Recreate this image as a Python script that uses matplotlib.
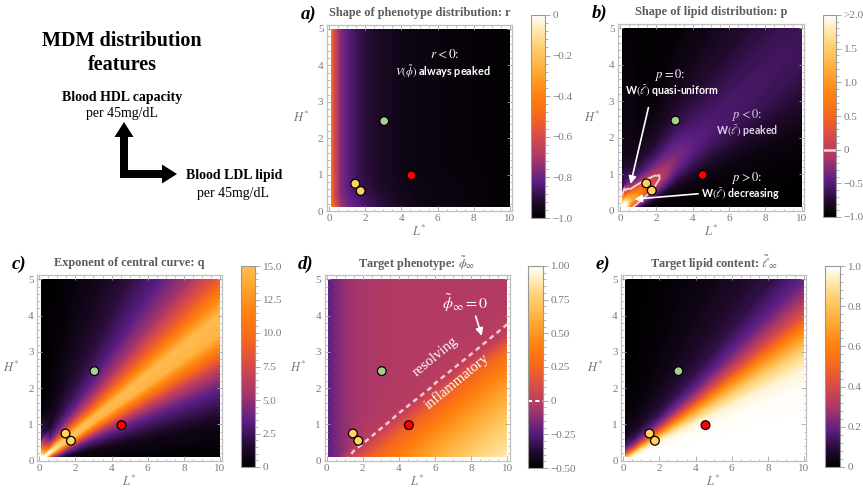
import numpy as np
import matplotlib.pyplot as plt
from matplotlib.colors import LinearSegmentedColormap, Normalize
from matplotlib.cm import ScalarMappable
from matplotlib.patches import Rectangle, FancyArrow
from matplotlib.ticker import MultipleLocator, AutoMinorLocator

plt.rcParams['font.family'] = ['Liberation Serif', 'DejaVu Serif']
plt.rcParams['mathtext.fontset'] = 'stix'

FIG_W, FIG_H = 863, 495

# fields are sampled along rays H* = ratio * L* (rows = ratio, columns = L*)
L_nodes = [0.1, 0.3, 0.6, 1, 1.5, 2, 3, 4, 5, 6, 8, 10]
ratio_nodes = [0, 0.1, 0.2, 0.25, 0.3, 0.35, 0.4, 0.45, 0.5, 0.6, 0.75, 1.0, 1.5, 2.5, 5, 12, 50]

# a) shape of phenotype distribution r
r_shape = [
    [-0.30, -0.45, -0.66, -0.76, -0.80, -0.84, -0.90, -0.94, -0.96, -0.97, -0.98, -0.99],
    [-0.32, -0.47, -0.68, -0.78, -0.82, -0.86, -0.915, -0.95, -0.965, -0.97, -0.98, -0.99],
    [-0.33, -0.48, -0.70, -0.79, -0.835, -0.88, -0.93, -0.955, -0.97, -0.975, -0.985, -0.99],
    [-0.33, -0.49, -0.71, -0.795, -0.84, -0.885, -0.935, -0.96, -0.97, -0.975, -0.985, -0.99],
    [-0.34, -0.50, -0.72, -0.80, -0.85, -0.89, -0.94, -0.96, -0.97, -0.975, -0.985, -0.99],
    [-0.34, -0.52, -0.725, -0.80, -0.855, -0.893, -0.94, -0.96, -0.97, -0.975, -0.985, -0.99],
    [-0.35, -0.53, -0.73, -0.805, -0.86, -0.895, -0.94, -0.96, -0.97, -0.975, -0.985, -0.99],
    [-0.35, -0.54, -0.735, -0.805, -0.86, -0.898, -0.94, -0.96, -0.97, -0.975, -0.985, -0.99],
    [-0.35, -0.55, -0.74, -0.81, -0.865, -0.90, -0.94, -0.96, -0.97, -0.975, -0.985, -0.99],
    [-0.36, -0.57, -0.745, -0.815, -0.87, -0.905, -0.94, -0.96, -0.97, -0.975, -0.985, -0.99],
    [-0.37, -0.59, -0.75, -0.82, -0.87, -0.905, -0.94, -0.96, -0.97, -0.975, -0.985, -0.99],
    [-0.38, -0.60, -0.76, -0.82, -0.87, -0.905, -0.94, -0.96, -0.97, -0.975, -0.985, -0.99],
    [-0.41, -0.62, -0.76, -0.82, -0.87, -0.905, -0.94, -0.96, -0.97, -0.975, -0.985, -0.99],
    [-0.44, -0.62, -0.76, -0.82, -0.87, -0.905, -0.94, -0.96, -0.97, -0.975, -0.985, -0.99],
    [-0.47, -0.62, -0.76, -0.82, -0.87, -0.905, -0.94, -0.96, -0.97, -0.975, -0.985, -0.99],
    [-0.47, -0.62, -0.76, -0.82, -0.87, -0.905, -0.94, -0.96, -0.97, -0.975, -0.985, -0.99],
    [-0.47, -0.62, -0.76, -0.82, -0.87, -0.905, -0.94, -0.96, -0.97, -0.975, -0.985, -0.99],
]

# b) shape of lipid distribution p
p_shape = [
    [2.6, 1.8, -0.4, -0.9, -0.97, -0.99, -1, -1, -1, -1, -1, -1],
    [2.6, 2.0, 0.0, -0.6, -0.85, -0.93, -0.97, -0.98, -0.98, -0.98, -0.98, -0.98],
    [2.6, 2.1, 0.45, -0.1, -0.5, -0.68, -0.86, -0.89, -0.90, -0.91, -0.92, -0.92],
    [2.6, 2.2, 0.65, 0.15, -0.2, -0.45, -0.73, -0.79, -0.82, -0.83, -0.84, -0.85],
    [2.6, 2.2, 0.85, 0.45, 0.05, -0.22, -0.58, -0.67, -0.71, -0.73, -0.75, -0.76],
    [2.6, 2.2, 1.0, 0.7, 0.25, -0.04, -0.44, -0.56, -0.62, -0.64, -0.66, -0.68],
    [2.6, 2.2, 1.15, 0.85, 0.38, 0.07, -0.335, -0.48, -0.54, -0.57, -0.60, -0.62],
    [2.6, 2.2, 1.25, 0.9, 0.42, 0.06, -0.30, -0.45, -0.52, -0.55, -0.58, -0.60],
    [2.6, 2.2, 1.25, 0.85, 0.3, -0.05, -0.32, -0.47, -0.53, -0.56, -0.59, -0.61],
    [2.6, 2.1, 1.15, 0.5, -0.08, -0.3, -0.44, -0.56, -0.62, -0.64, -0.66, -0.68],
    [2.6, 1.9, 0.8, -0.1, -0.45, -0.58, -0.64, -0.71, -0.75, -0.77, -0.78, -0.79],
    [2.6, 1.5, 0.0, -0.55, -0.72, -0.8, -0.825, -0.86, -0.88, -0.89, -0.90, -0.90],
    [2.3, 0.3, -0.6, -0.85, -0.9, -0.94, -0.95, -0.96, -0.97, -0.97, -0.97, -0.97],
    [1.4, -0.55, -0.85, -0.95, -0.97, -0.98, -0.99, -0.99, -0.99, -0.99, -0.99, -0.99],
    [-0.66, -0.85, -0.93, -0.98, -0.99, -1, -1, -1, -1, -1, -1, -1],
    [-0.85, -0.95, -0.97, -1, -1, -1, -1, -1, -1, -1, -1, -1],
    [-0.98, -0.98, -0.99, -1, -1, -1, -1, -1, -1, -1, -1, -1],
]

# c) exponent of central curve q
q_exponent = [
    [20, 4, 1, 0.3, 0.1, 0, 0, 0, 0, 0, 0, 0],
    [20, 8, 4, 2.5, 1.5, 1, 0.8, 0.8, 0.8, 0.8, 0.8, 0.8],
    [20, 14, 9, 7, 5, 4.2, 3.6, 3.6, 3.6, 3.6, 3.6, 3.6],
    [20, 16, 12, 10, 8, 7, 6.2, 6.2, 6.2, 6.2, 6.2, 6.2],
    [20, 18, 15, 13.5, 12, 11.2, 10.4, 10.4, 10.4, 10.4, 10.4, 10.4],
    [20, 19, 17.5, 16, 15.3, 15, 14.4, 14.4, 14.4, 14.4, 14.4, 14.4],
    [20, 19, 18, 16.5, 15.5, 15.2, 14.7, 14.7, 14.7, 14.7, 14.7, 14.7],
    [20, 18.5, 17, 15, 13.5, 12.5, 11.6, 11.6, 11.6, 11.6, 11.6, 11.6],
    [20, 17, 14.5, 12.5, 10.8, 9.7, 8.8, 8.8, 8.8, 8.8, 8.8, 8.8],
    [20, 15, 10, 8, 6.7, 6, 5.4, 5.4, 5.4, 5.4, 5.4, 5.4],
    [20, 13, 6, 4.5, 3.9, 3.5, 3.3, 3.3, 3.3, 3.3, 3.3, 3.3],
    [19, 11, 3.2, 2.5, 2.2, 2, 1.9, 1.9, 1.9, 1.9, 1.9, 1.9],
    [17, 6, 1.3, 1, 1, 1, 0.9, 0.9, 0.9, 0.9, 0.9, 0.9],
    [12, 2, 0.5, 0.4, 0.4, 0.4, 0.4, 0.4, 0.4, 0.4, 0.4, 0.4],
    [3, 0.3, 0.1, 0.1, 0.1, 0.1, 0.15, 0.15, 0.15, 0.15, 0.15, 0.15],
    [0.3, 0, 0, 0, 0, 0, 0, 0, 0, 0, 0, 0],
    [0, 0, 0, 0, 0, 0, 0, 0, 0, 0, 0, 0],
]

# d) target phenotype
phi_target = [
    [-0.23, -0.2, -0.16, -0.02, 0.1, 0.185, 0.31, 0.42, 0.525, 0.62, 0.785, 0.9],
    [-0.23, -0.2, -0.16, -0.05, 0.043, 0.105, 0.22, 0.315, 0.40, 0.48, 0.625, 0.75],
    [-0.23, -0.2, -0.16, -0.09, -0.01, 0.025, 0.11, 0.195, 0.258, 0.32, 0.435, 0.54],
    [-0.23, -0.2, -0.16, -0.11, -0.02, -0.012, 0.05, 0.113, 0.177, 0.23, 0.33, 0.41],
    [-0.23, -0.2, -0.16, -0.11, -0.035, -0.02, -0.005, 0.025, 0.077, 0.12, 0.21, 0.27],
    [-0.23, -0.2, -0.16, -0.11, -0.045, -0.03, -0.018, -0.02, -0.015, 0.002, 0.008, 0.017],
    [-0.23, -0.2, -0.16, -0.11, -0.05, -0.04, -0.025, -0.025, -0.02, -0.016, -0.015, -0.015],
    [-0.23, -0.2, -0.16, -0.11, -0.058, -0.045, -0.032, -0.03, -0.027, -0.027, -0.028, -0.03],
    [-0.23, -0.2, -0.16, -0.11, -0.064, -0.05, -0.035, -0.033, -0.03, -0.03, -0.03, -0.03],
    [-0.23, -0.2, -0.16, -0.11, -0.07, -0.055, -0.04, -0.035, -0.03, -0.03, -0.03, -0.03],
    [-0.23, -0.2, -0.16, -0.11, -0.078, -0.06, -0.042, -0.035, -0.03, -0.03, -0.03, -0.03],
    [-0.23, -0.2, -0.16, -0.11, -0.08, -0.062, -0.042, -0.035, -0.03, -0.03, -0.03, -0.03],
    [-0.23, -0.2, -0.16, -0.11, -0.08, -0.062, -0.042, -0.035, -0.03, -0.03, -0.03, -0.03],
    [-0.23, -0.2, -0.16, -0.11, -0.08, -0.062, -0.042, -0.035, -0.03, -0.03, -0.03, -0.03],
    [-0.23, -0.2, -0.16, -0.11, -0.08, -0.062, -0.042, -0.035, -0.03, -0.03, -0.03, -0.03],
    [-0.23, -0.2, -0.16, -0.11, -0.08, -0.062, -0.042, -0.035, -0.03, -0.03, -0.03, -0.03],
    [-0.23, -0.2, -0.16, -0.11, -0.08, -0.062, -0.042, -0.035, -0.03, -0.03, -0.03, -0.03],
]

# e) target lipid content
ell_target = [
    [1, 1, 1, 1, 1, 1, 1, 1, 1, 1, 1, 1],
    [1, 0.98, 0.99, 1, 1, 1, 1, 1, 1, 1, 1, 1],
    [1, 0.93, 0.95, 0.97, 0.99, 0.99, 0.99, 0.99, 0.99, 0.99, 0.99, 0.99],
    [1, 0.9, 0.92, 0.94, 0.97, 0.97, 0.96, 0.96, 0.96, 0.96, 0.96, 0.96],
    [1, 0.85, 0.88, 0.9, 0.88, 0.87, 0.86, 0.85, 0.85, 0.85, 0.85, 0.85],
    [1, 0.82, 0.8, 0.8, 0.74, 0.7, 0.67, 0.65, 0.65, 0.65, 0.65, 0.65],
    [0.98, 0.78, 0.72, 0.66, 0.55, 0.5, 0.45, 0.42, 0.42, 0.42, 0.42, 0.42],
    [0.95, 0.74, 0.62, 0.52, 0.4, 0.35, 0.3, 0.28, 0.28, 0.28, 0.28, 0.28],
    [0.9, 0.7, 0.52, 0.4, 0.3, 0.25, 0.21, 0.19, 0.19, 0.19, 0.19, 0.19],
    [0.85, 0.6, 0.38, 0.25, 0.17, 0.14, 0.12, 0.11, 0.11, 0.11, 0.11, 0.11],
    [0.75, 0.45, 0.24, 0.14, 0.1, 0.08, 0.075, 0.07, 0.07, 0.07, 0.07, 0.07],
    [0.6, 0.3, 0.12, 0.07, 0.05, 0.045, 0.04, 0.04, 0.04, 0.04, 0.04, 0.04],
    [0.4, 0.15, 0.05, 0.03, 0.02, 0.02, 0.02, 0.02, 0.02, 0.02, 0.02, 0.02],
    [0.2, 0.05, 0.02, 0.01, 0.01, 0.01, 0.01, 0.01, 0.01, 0.01, 0.01, 0.01],
    [0.05, 0.01, 0, 0, 0, 0, 0, 0, 0, 0, 0, 0],
    [0.01, 0, 0, 0, 0, 0, 0, 0, 0, 0, 0, 0],
    [0, 0, 0, 0, 0, 0, 0, 0, 0, 0, 0, 0],
]

# patient markers (L*, H*)
pt_L = [3.05, 4.55, 1.45, 1.75]
pt_H = [2.47, 0.98, 0.75, 0.55]
pt_colors = ['#a3d08a', '#ff0000', '#ffd35e', '#ffd35e']

sunset = LinearSegmentedColormap.from_list('sunset', [
    (0.0, (0, 0, 0)),
    (0.08, (0.13, 0.04, 0.18)),
    (0.18, (0.36, 0.12, 0.52)),
    (0.3, (0.68, 0.22, 0.4)),
    (0.4, (0.84, 0.29, 0.29)),
    (0.5, (0.96, 0.4, 0.12)),
    (0.6, (1.0, 0.5, 0.05)),
    (0.72, (1.0, 0.66, 0.2)),
    (0.85, (1.0, 0.82, 0.45)),
    (0.93, (1.0, 0.92, 0.7)),
    (1.0, (1, 1, 1)),
])

GREY_TXT = '#7a7a7a'


def px_rect(l, t, r, b):
    return [l / FIG_W, 1 - b / FIG_H, (r - l) / FIG_W, (b - t) / FIG_H]


def heat_panel(fig, box, cbox, field, vmin, vmax, letter, title, ticks, labels, bar_top=None):
    ax = fig.add_axes(px_rect(*box))
    norm = Normalize(vmin, vmax)
    X = np.tile(L_nodes, (len(ratio_nodes), 1))
    Y = np.outer(ratio_nodes, L_nodes)
    Z = np.clip(np.array(field, dtype=float), vmin, vmax)
    cs = ax.contourf(X, Y, Z, levels=np.linspace(vmin, vmax, 300), cmap=sunset, norm=norm,
                     antialiased=False)
    cs.set_clip_path(Rectangle((0.1, 0.1), 9.9, 4.9, transform=ax.transData))
    ax.scatter(pt_L, pt_H, s=40, c=pt_colors, edgecolors='black', linewidths=0.9, zorder=5)

    ax.set_xlim(-0.12, 10.12)
    ax.set_ylim(0, 5.12)
    ax.xaxis.set_major_locator(MultipleLocator(2))
    ax.xaxis.set_minor_locator(MultipleLocator(0.5))
    ax.yaxis.set_major_locator(MultipleLocator(1))
    ax.yaxis.set_minor_locator(MultipleLocator(0.2))
    ax.tick_params(which='both', direction='in', top=True, right=True, color='0.65',
                   labelcolor=GREY_TXT, labelsize=8, pad=2.5)
    ax.tick_params(which='major', length=3.5, width=0.6)
    ax.tick_params(which='minor', length=1.8, width=0.5)
    for s in ax.spines.values():
        s.set_color('0.75')
        s.set_linewidth(0.9)

    ax.text(0.5, -0.11, '$L^{*}$', transform=ax.transAxes, ha='center', va='center',
            fontsize=9, color=GREY_TXT)
    ax.text(-0.14, 0.5, '$H^{*}$', transform=ax.transAxes, ha='center', va='center',
            fontsize=9, color=GREY_TXT)
    ax.text(0.5, 1.062, title, transform=ax.transAxes, ha='center', va='center',
            fontsize=8.8, fontweight='bold', color='#5c5c5c')
    ax.text(-0.1, 1.055, letter, transform=ax.transAxes, ha='center', va='center',
            fontsize=13.5, fontweight='bold', fontstyle='italic', color='black')

    cax = fig.add_axes(px_rect(*cbox))
    sm = ScalarMappable(norm=norm, cmap=sunset)
    if bar_top is None:
        cbar = fig.colorbar(sm, cax=cax)
    else:
        cbar = fig.colorbar(sm, cax=cax, boundaries=np.linspace(vmin, bar_top, 300))
    cbar.set_ticks(ticks, labels=labels)
    cbar.ax.yaxis.set_minor_locator(AutoMinorLocator(5))
    cbar.ax.tick_params(which='both', color='0.6', labelcolor=GREY_TXT, labelsize=8, pad=2)
    cbar.ax.tick_params(which='major', length=3.5, width=0.6)
    cbar.ax.tick_params(which='minor', length=1.8, width=0.5)
    cbar.outline.set_edgecolor('0.6')
    cbar.outline.set_linewidth(0.8)
    return ax, cbar, X, Y


fig = plt.figure(figsize=(FIG_W / 100, FIG_H / 100), dpi=100)

# left-hand legend block drawn in pixel coordinates
bg = fig.add_axes([0, 0, 1, 1])
bg.set_xlim(0, FIG_W)
bg.set_ylim(FIG_H, 0)
bg.axis('off')
bg.text(122, 41, 'MDM distribution', ha='center', va='center', fontsize=14.5, fontweight='bold')
bg.text(122, 65, 'features', ha='center', va='center', fontsize=14.5, fontweight='bold')
bg.text(122, 97, 'Blood HDL capacity', ha='center', va='center', fontsize=10, fontweight='bold')
bg.text(122, 114, 'per 45mg/dL', ha='center', va='center', fontsize=10)
bg.text(186, 176, 'Blood LDL lipid', ha='left', va='center', fontsize=10, fontweight='bold')
bg.text(233, 193, 'per 45mg/dL', ha='center', va='center', fontsize=10)
bg.add_patch(FancyArrow(124, 178, 0, -56, width=8, head_width=19, head_length=15,
                        length_includes_head=True, color='black', lw=0))
bg.add_patch(FancyArrow(120, 174, 57, 0, width=8, head_width=19, head_length=15,
                        length_includes_head=True, color='black', lw=0))

sans = ['Lato', 'DejaVu Sans']

# a
ax, cb, X, Y = heat_panel(fig, (326.8, 24.6, 512.2, 211), (531, 15, 545, 218), r_shape, -1, 0,
                          'a)', 'Shape of phenotype distribution: r',
                          [-1, -0.8, -0.6, -0.4, -0.2, 0],
                          ['\u22121.0', '\u22120.8', '\u22120.6', '\u22120.4', '\u22120.2', '0'])
ax.text(6.4, 4.3, '$r < 0$:', color='white', fontsize=9.5, ha='center', va='center')
ax.text(6.3, 3.82, r'$V(\tilde{\phi})$ always peaked', color='white', fontsize=7.8,
        fontweight='bold', family=sans, ha='center', va='center')

# b
ax, cb, X, Y = heat_panel(fig, (617.8, 23.9, 803.9, 210.7), (823, 15, 836, 217), p_shape, -1, 2,
                          'b)', 'Shape of lipid distribution: p',
                          [-1, -0.5, 0, 0.5, 1, 1.5, 2],
                          ['\u22121.0', '\u22120.5', '0', '0.5', '1.0', '1.5', '>2.0'])
ct = ax.contour(X, Y, np.array(p_shape), levels=[0], colors=['#f3c9cf'], linewidths=1.4)
ct.set_clip_path(Rectangle((0.1, 0.1), 9.9, 4.9, transform=ax.transData))
cb.ax.axhline(0, color='#f3d3d6', lw=1.8)
ax.text(2.75, 3.72, '$p = 0$:', color='white', fontsize=9, ha='center', va='center')
ax.text(2.85, 3.27, r'W$(\bar{\ell})$ quasi-uniform', color='white', fontsize=7.6,
        fontweight='bold', family=sans, ha='center', va='center')
ax.text(6.97, 2.62, '$p < 0$:', color='#ddd3ea', fontsize=9, ha='center', va='center')
ax.text(6.97, 2.17, r'W$(\bar{\ell})$ peaked', color='#ddd3ea', fontsize=7.6,
        fontweight='bold', family=sans, ha='center', va='center')
ax.text(6.97, 0.9, '$p > 0$:', color='white', fontsize=9, ha='center', va='center')
ax.text(6.65, 0.45, r'W$(\bar{\ell})$ decreasing', color='white', fontsize=7.6,
        fontweight='bold', family=sans, ha='center', va='center')
ax.annotate('', xy=(0.55, 0.66), xytext=(1.6, 2.9),
            arrowprops=dict(arrowstyle='-|>', color='white', lw=1.2, mutation_scale=11))
ax.annotate('', xy=(0.64, 0.31), xytext=(4.45, 0.47),
            arrowprops=dict(arrowstyle='-|>', color='white', lw=1.2, mutation_scale=11))

# c
ax, cb, X, Y = heat_panel(fig, (37.1, 275, 222.2, 460.7), (241, 266, 255, 467), q_exponent, 0, 19,
                          'c)', 'Exponent of central curve: q',
                          [0, 2.5, 5, 7.5, 10, 12.5, 15],
                          ['0', '2.5', '5.0', '7.5', '10.0', '12.5', '15.0'], bar_top=15)

# d
ax, cb, X, Y = heat_panel(fig, (324.5, 275, 509.5, 460.7), (528, 266, 543, 468), phi_target, -0.5, 1,
                          'd)', r'Target phenotype: $\tilde{\phi}_{\infty}$',
                          [-0.5, -0.25, 0, 0.25, 0.5, 0.75, 1],
                          ['\u22120.50', '\u22120.25', '0', '0.25', '0.50', '0.75', '1.00'])
ct = ax.contour(X, Y, np.array(phi_target), levels=[0], colors=['#f5c8d0'], linewidths=1.8,
                linestyles=[(0, (2, 1.6))])
ct.set_clip_path(Rectangle((0.1, 0.1), 9.9, 4.9, transform=ax.transData))
cb.ax.axhline(0, color='white', lw=1.5, ls=(0, (2, 1.5)))
ax.text(7.66, 4.34, r'$\tilde{\phi}_{\infty} = 0$', color='white', fontsize=11.5,
        ha='center', va='center')
ax.annotate('', xy=(8.63, 3.37), xytext=(8.2, 4.06),
            arrowprops=dict(arrowstyle='-|>', color='white', lw=1.2, mutation_scale=11))
ax.text(6.0, 2.87, 'resolving', color='white', fontsize=10.5, rotation=39.5,
        ha='center', va='center')
ax.text(7.2, 2.18, 'inflammatory', color='white', fontsize=10.5, rotation=39.5,
        ha='center', va='center')

# e
ax, cb, X, Y = heat_panel(fig, (621.1, 275, 806.2, 460.7), (825, 266, 840, 467), ell_target, 0, 1,
                          'e)', r'Target lipid content: $\tilde{\ell}_{\infty}$',
                          [0, 0.2, 0.4, 0.6, 0.8, 1],
                          ['0', '0.2', '0.4', '0.6', '0.8', '1.0'])

fig.savefig('out.png', dpi=100)
